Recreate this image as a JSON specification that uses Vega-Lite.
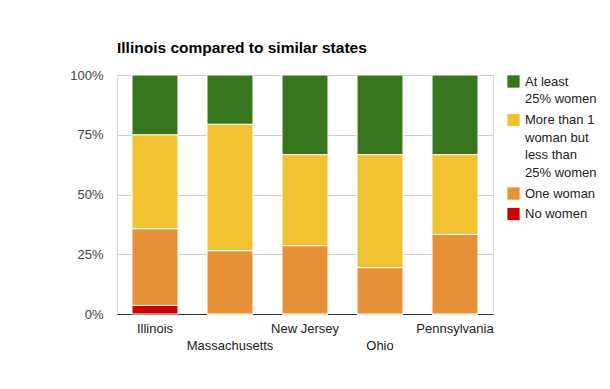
{
  "$schema": "https://vega.github.io/schema/vega-lite/v6.json",
  "autosize": {"type": "none"},
  "padding": {"left": 117, "top": 75, "right": 117, "bottom": 75},
  "width": 376,
  "height": 239,
  "background": "white",
  "config": {
    "style": {"guide-label": {"lineHeight": 17.6, "dy": -6}}
  },
  "title": {
    "text": "Illinois compared to similar states",
    "anchor": "start",
    "frame": "group",
    "font": "Liberation Sans",
    "fontSize": 15.5,
    "fontWeight": "bold",
    "color": "#000000",
    "baseline": "alphabetic",
    "offset": 1
  },
  "data": {
    "values": [
      {"state": "Illinois", "category": "No women", "share": 0.036},
      {"state": "Illinois", "category": "One woman", "share": 0.321},
      {"state": "Illinois", "category": "More than 1 woman but less than 25% women", "share": 0.393},
      {"state": "Illinois", "category": "At least 25% women", "share": 0.25},
      {"state": "Massachusetts", "category": "No women", "share": 0},
      {"state": "Massachusetts", "category": "One woman", "share": 0.265},
      {"state": "Massachusetts", "category": "More than 1 woman but less than 25% women", "share": 0.529},
      {"state": "Massachusetts", "category": "At least 25% women", "share": 0.206},
      {"state": "New Jersey", "category": "No women", "share": 0},
      {"state": "New Jersey", "category": "One woman", "share": 0.286},
      {"state": "New Jersey", "category": "More than 1 woman but less than 25% women", "share": 0.381},
      {"state": "New Jersey", "category": "At least 25% women", "share": 0.333},
      {"state": "Ohio", "category": "No women", "share": 0},
      {"state": "Ohio", "category": "One woman", "share": 0.194},
      {"state": "Ohio", "category": "More than 1 woman but less than 25% women", "share": 0.473},
      {"state": "Ohio", "category": "At least 25% women", "share": 0.333},
      {"state": "Pennsylvania", "category": "No women", "share": 0},
      {"state": "Pennsylvania", "category": "One woman", "share": 0.333},
      {"state": "Pennsylvania", "category": "More than 1 woman but less than 25% women", "share": 0.334},
      {"state": "Pennsylvania", "category": "At least 25% women", "share": 0.333}
    ]
  },
  "transform": [
    {"calculate": "indexof(['No women', 'One woman', 'More than 1 woman but less than 25% women', 'At least 25% women'], datum.category)", "as": "stackRank"}
  ],
  "mark": {"type": "bar", "stroke": "white", "strokeWidth": 1},
  "encoding": {
    "x": {
      "field": "state",
      "type": "nominal",
      "sort": null,
      "scale": {"paddingInner": 0.387, "paddingOuter": 0.2},
      "axis": {
        "title": null,
        "labelAngle": 0,
        "labelFont": "Liberation Sans",
        "labelFontSize": 13,
        "labelColor": "#222222",
        "labelBaseline": "top",
        "labelLineHeight": 17,
        "labelPadding": 14,
        "labelExpr": "indexof(['Massachusetts','Ohio'], datum.value) >= 0 ? ['', datum.value] : datum.value",
        "ticks": false,
        "domainColor": "#333333",
        "domainWidth": 1,
        "grid": false
      }
    },
    "y": {
      "field": "share",
      "type": "quantitative",
      "stack": "zero",
      "scale": {"domain": [0, 1]},
      "axis": {
        "title": null,
        "values": [0, 0.25, 0.5, 0.75, 1],
        "format": ".0%",
        "labelFont": "Liberation Sans",
        "labelFontSize": 13,
        "labelColor": "#444444",
        "labelPadding": 14,
        "labelOffset": 6,
        "ticks": false,
        "domain": false,
        "gridColor": "#cccccc",
        "gridWidth": 1
      }
    },
    "order": {"field": "stackRank", "type": "quantitative", "sort": "ascending"},
    "color": {
      "field": "category",
      "type": "nominal",
      "sort": ["At least 25% women", "More than 1 woman but less than 25% women", "One woman", "No women"],
      "scale": {
        "domain": ["At least 25% women", "More than 1 woman but less than 25% women", "One woman", "No women"],
        "range": ["#38761d", "#f1c232", "#e69138", "#cc0000"]
      },
      "legend": {
        "title": null,
        "orient": "right",
        "offset": 14,
        "symbolType": "square",
        "symbolSize": 150,
        "symbolStrokeWidth": 0,
        "symbolOpacity": 1,
        "labelFont": "Liberation Sans",
        "labelFontSize": 13,
        "labelColor": "#222222",
        "labelBaseline": "top",
        "labelOffset": 5,
        "rowPadding": 6.5,
        "labelLimit": 200,
        "labelExpr": "datum.value == 'At least 25% women' ? ['At least', '25% women'] : datum.value == 'More than 1 woman but less than 25% women' ? ['More than 1', 'woman but', 'less than', '25% women'] : datum.value"
      }
    }
  }
}
